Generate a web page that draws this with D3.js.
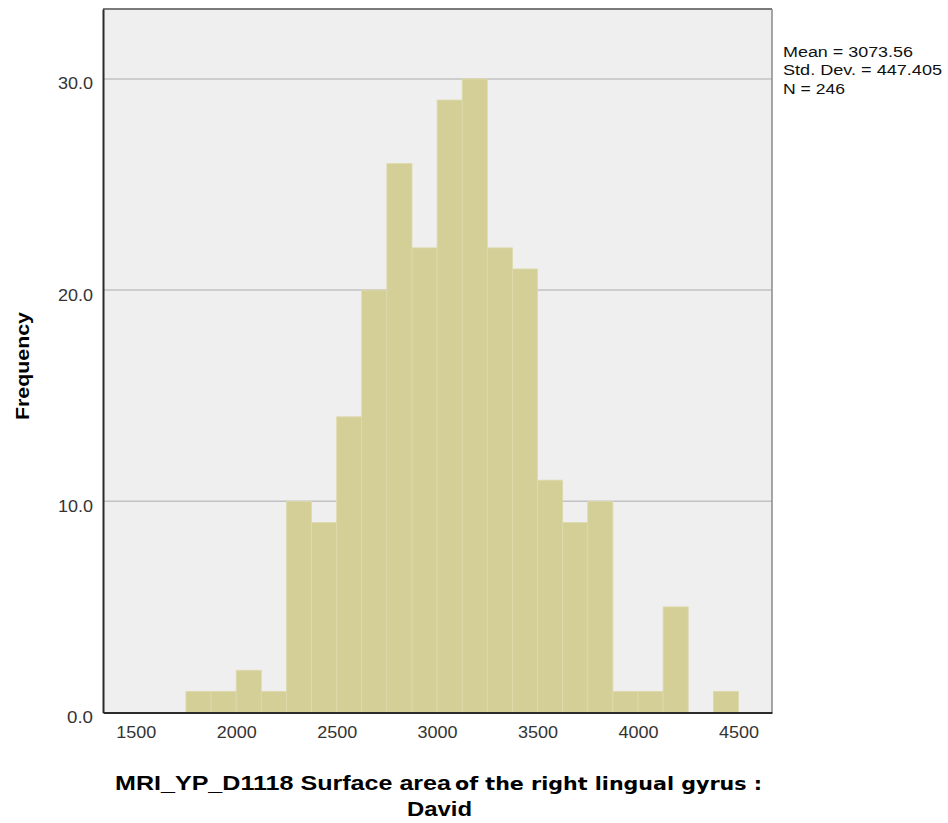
<!DOCTYPE html>
<html>
<head>
<meta charset="utf-8">
<script src="https://cdn.jsdelivr.net/npm/d3@7"></script>
<style>
  html, body { margin: 0; padding: 0; background: #ffffff; }
  svg { display: block; }
</style>
</head>
<body>
<svg id="chart" width="948" height="823"></svg>
<script>
// ---- data ----
const binLower = [1750, 1875, 2000, 2125, 2250, 2375, 2500, 2625, 2750, 2875, 3000,
                  3125, 3250, 3375, 3500, 3625, 3750, 3875, 4000, 4125, 4250, 4375];
const binWidth = 125;
const counts = [1, 1, 2, 1, 10, 9, 14, 20, 26, 22, 29,
                30, 22, 21, 11, 9, 10, 1, 1, 5, 0, 1];
const xTicks = [1500, 2000, 2500, 3000, 3500, 4000, 4500];
const yTicks = [0, 10, 20, 30];
const statsLines = ["Mean = 3073.56", "Std. Dev. = 447.405", "N = 246"];
const yTitle = "Frequency";
const xTitleA = "MRI_YP_D1118 Surface area";
const xTitleB = "of the right lingual gyrus :";
const xTitle2 = "David";

// ---- layout ----
const L = 103, R = 772, T = 9, B = 712.5;
const svg = d3.select("#chart");

const x = d3.scaleLinear().domain([1337, 4667]).range([L, R]);
const y = d3.scaleLinear().domain([0, 33.31]).range([B, T]);

// plot background
svg.append("rect").attr("x", L).attr("y", T).attr("width", R - L).attr("height", B - T)
  .attr("fill", "#efefef");

// gridlines
svg.append("g").selectAll("line").data(yTicks.filter(d => d > 0)).join("line")
  .attr("x1", L).attr("x2", R)
  .attr("y1", d => y(d)).attr("y2", d => y(d))
  .attr("stroke", "#c2c2c2").attr("stroke-width", 1.5);

// bars
const bins = binLower.map((b, i) => ({ x0: b, x1: b + binWidth, n: counts[i] }));
svg.append("g").selectAll("rect").data(bins.filter(d => d.n > 0)).join("rect")
  .attr("x", d => x(d.x0))
  .attr("width", d => x(d.x1) - x(d.x0))
  .attr("y", d => y(d.n))
  .attr("height", d => y(0) - y(d.n))
  .attr("fill", "#d3cf97")
  .attr("stroke", "#dedaac")
  .attr("stroke-width", 0.8);

// frame: top/right grey, left/bottom dark
svg.append("line").attr("x1", L).attr("x2", R).attr("y1", T).attr("y2", T)
  .attr("stroke", "#7a7a7a").attr("stroke-width", 2);
svg.append("line").attr("x1", R).attr("x2", R).attr("y1", T).attr("y2", B)
  .attr("stroke", "#8a8a8a").attr("stroke-width", 1.5);

// axes (no tick marks, labels only)
const fmt = d3.format(".1f");
const yAxis = svg.append("g").attr("transform", `translate(${L},0)`)
  .call(d3.axisLeft(y).tickValues(yTicks).tickFormat(fmt).tickSize(0).tickPadding(10));
yAxis.select(".domain").attr("stroke", "#2b2b2b").attr("stroke-width", 2);
yAxis.selectAll("text")
  .attr("font-family", "'Liberation Sans', Arial, sans-serif")
  .attr("font-size", 16).attr("fill", "#333")
  .attr("dy", "0.62em")
  .attr("textLength", d => d === 0 ? 26 : 35).attr("lengthAdjust", "spacingAndGlyphs");

const xAxis = svg.append("g").attr("transform", `translate(0,${B})`)
  .call(d3.axisBottom(x).tickValues(xTicks).tickFormat(d3.format("d")).tickSize(0).tickPadding(14));
xAxis.select(".domain").attr("stroke", "#2b2b2b").attr("stroke-width", 2);
xAxis.selectAll("text")
  .attr("font-family", "'Liberation Sans', Arial, sans-serif")
  .attr("font-size", 16).attr("fill", "#333")
  .attr("textLength", 40).attr("lengthAdjust", "spacingAndGlyphs");

// y title
svg.append("text")
  .attr("transform", "translate(29,366) rotate(-90)")
  .attr("text-anchor", "middle")
  .attr("font-family", "'Liberation Sans', Arial, sans-serif")
  .attr("font-weight", "bold").attr("font-size", 18).attr("fill", "#000")
  .attr("textLength", 108).attr("lengthAdjust", "spacingAndGlyphs")
  .text(yTitle);

// x title (two lines)
svg.append("text").attr("x", 115).attr("y", 790)
  .attr("font-family", "'Liberation Sans', Arial, sans-serif")
  .attr("font-weight", "bold").attr("font-size", 20).attr("fill", "#000")
  .attr("textLength", 336).attr("lengthAdjust", "spacingAndGlyphs")
  .text(xTitleA);
svg.append("text").attr("x", 455).attr("y", 790)
  .attr("font-family", "'DejaVu Sans', sans-serif")
  .attr("font-weight", "bold").attr("font-size", 18).attr("fill", "#000")
  .attr("textLength", 307).attr("lengthAdjust", "spacingAndGlyphs")
  .text(xTitleB);
svg.append("text").attr("x", 407).attr("y", 816)
  .attr("font-family", "'Liberation Sans', Arial, sans-serif")
  .attr("font-weight", "bold").attr("font-size", 20).attr("fill", "#000")
  .attr("textLength", 65).attr("lengthAdjust", "spacingAndGlyphs")
  .text(xTitle2);

// stats text
const statLen = [130, 159, 62];
const statY = [57, 75, 94];
svg.append("g").selectAll("text").data(statsLines).join("text")
  .attr("x", 783).attr("y", (d, i) => statY[i])
  .attr("font-family", "'Liberation Sans', Arial, sans-serif")
  .attr("font-size", 14).attr("fill", "#111")
  .attr("textLength", (d, i) => statLen[i]).attr("lengthAdjust", "spacingAndGlyphs")
  .text(d => d);
</script>
</body>
</html>
